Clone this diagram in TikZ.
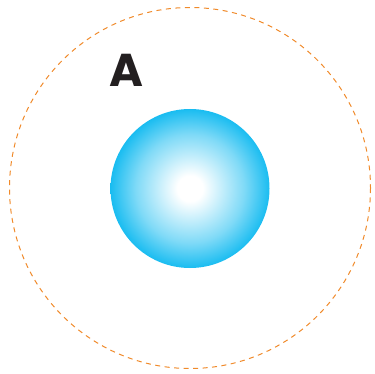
\documentclass[tikz,border=0pt]{standalone}
\usepackage{fontspec}
\usepackage{tikz}
\usetikzlibrary{positioning}
\newfontfamily\labelfont{Poppins}
\definecolor{orbit}   {HTML}{F08A2A}
\definecolor{ballblue}{HTML}{00B5EF}
\definecolor{ink}     {HTML}{231F20}
\pgfdeclareradialshading{ballglow}{\pgfpoint{0bp}{0bp}}{%
  color(0bp)=(white); color(4bp)=(white);
  color(17bp)=(ballblue!50); color(27bp)=(ballblue); color(50bp)=(ballblue)}

\begin{document}
\begin{tikzpicture}[x=1pt,y=-1pt]
  \useasboundingbox (0,0) rectangle (374,374);
  % dashed orbit
  \draw[orbit, line width=1pt, dash pattern=on 5pt off 4.5pt] (190,188) circle (180.5);
  % glowing ball
  \shade[shading=ballglow] (190,188.5) circle (79.5);
  % label
  \node[font=\labelfont\bfseries\fontsize{46}{46}\selectfont, color=ink, inner sep=0pt, anchor=base]
    (lblA) at (126,87) {A};
\end{tikzpicture}
\end{document}
